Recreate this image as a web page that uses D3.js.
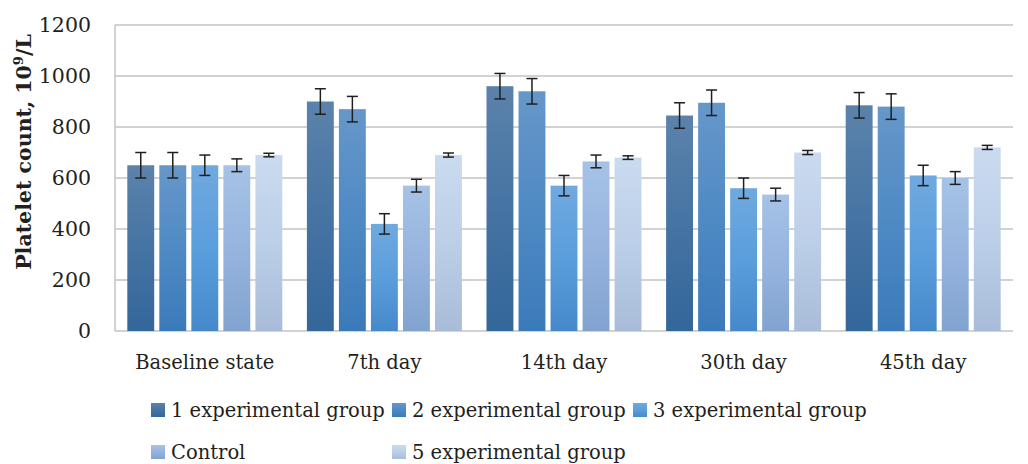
<html>

<head>
    <style>
        body { margin: 0; background: #fff; }
        text { font-family: "DejaVu Serif", "Liberation Serif", serif; fill: #231f20; }
    </style>
</head>

<body>
    <svg id="container" height="464" width="1028"></svg>
</body>
<script src="https://cdn.jsdelivr.net/npm/d3@7"></script>
<script>
    // data
    let categories = ["Baseline state", "7th day", "14th day", "30th day", "45th day"]
    let seriesNames = ["1 experimental group", "2 experimental group", "3 experimental group", "Control", "5 experimental group"]

    let group1 = [650, 900, 960, 845, 885]
    let group2 = [650, 870, 940, 895, 880]
    let group3 = [650, 420, 570, 560, 610]
    let control = [650, 570, 665, 535, 600]
    let group5 = [690, 690, 680, 700, 720]

    let err1 = [50, 50, 50, 50, 50]
    let err2 = [50, 50, 50, 50, 50]
    let err3 = [40, 40, 40, 40, 40]
    let errControl = [25, 25, 25, 25, 25]
    let err5 = [7, 8, 7, 8, 8]

    let yTicks = [0, 200, 400, 600, 800, 1000, 1200]

    // gradient stops per series: top, middle, bottom
    let gradients = [
        ["#5b82ab", "#4674a3", "#33669a"],
        ["#6697c9", "#4f8ac4", "#3b7aba"],
        ["#70a9df", "#5a9edc", "#4689cb"],
        ["#a6c2e6", "#96b4de", "#82a3d0"],
        ["#cadbef", "#bccfe8", "#a8bcd9"]
    ]

    let values = [group1, group2, group3, control, group5]
    let errors = [err1, err2, err3, errControl, err5]

    let svg = d3.select("#container")

    let plotLeft = 115, plotRight = 1013, plotTop = 25, plotBottom = 331

    let x0 = d3.scaleBand().domain(categories).range([plotLeft, plotRight]).padding(0)
    let x1 = d3.scaleBand().domain(d3.range(seriesNames.length))
        .range([12.3, x0.bandwidth() - 12.3]).paddingInner(0.16).paddingOuter(0)
    let y = d3.scaleLinear().domain([0, 1200]).range([plotBottom, plotTop])

    let defs = svg.append("defs")
    gradients.forEach((g, i) => {
        let lg = defs.append("linearGradient")
            .attr("id", "grad" + i)
            .attr("x1", 0).attr("y1", 0).attr("x2", 0).attr("y2", 1)
        lg.append("stop").attr("offset", "0%").attr("stop-color", g[0])
        lg.append("stop").attr("offset", "50%").attr("stop-color", g[1])
        lg.append("stop").attr("offset", "100%").attr("stop-color", g[2])
    })

    // gridlines
    svg.append("g")
        .selectAll("line")
        .data(yTicks)
        .enter()
        .append("line")
        .attr("x1", plotLeft)
        .attr("x2", plotRight)
        .attr("y1", d => y(d))
        .attr("y2", d => y(d))
        .attr("stroke", "#c3c3c3")
        .attr("stroke-width", 1.5)

    // left axis line
    svg.append("line")
        .attr("x1", plotLeft).attr("x2", plotLeft)
        .attr("y1", y(1200)).attr("y2", y(0))
        .attr("stroke", "#c3c3c3")
        .attr("stroke-width", 1.5)

    // y tick labels
    svg.append("g")
        .selectAll("text")
        .data(yTicks)
        .enter()
        .append("text")
        .attr("x", 91)
        .attr("y", d => y(d))
        .attr("dy", "0.36em")
        .attr("text-anchor", "end")
        .attr("font-size", 20.5)
        .text(d => d)

    // bars
    let groups = svg.append("g")
        .selectAll("g")
        .data(values)
        .enter()
        .append("g")
        .attr("fill", (d, i) => "url(#grad" + i + ")")

    groups.selectAll("rect")
        .data((d, i) => d.map((v, j) => ({ s: i, c: categories[j], v: v })))
        .enter()
        .append("rect")
        .attr("x", d => x0(d.c) + x1(d.s))
        .attr("width", x1.bandwidth())
        .attr("y", d => y(d.v))
        .attr("height", d => y(0) - y(d.v))

    // error bars
    let errData = []
    values.forEach((vals, i) => {
        vals.forEach((v, j) => {
            errData.push({ cx: x0(categories[j]) + x1(i) + x1.bandwidth() / 2, v: v, e: errors[i][j] })
        })
    })

    let eb = svg.append("g")
        .attr("stroke", "#1f1f1f")
        .attr("stroke-width", 1.5)
        .selectAll("g")
        .data(errData)
        .enter()
        .append("g")

    eb.append("line")
        .attr("x1", d => d.cx).attr("x2", d => d.cx)
        .attr("y1", d => y(d.v + d.e)).attr("y2", d => y(d.v - d.e))
    eb.append("line")
        .attr("x1", d => d.cx - 5.5).attr("x2", d => d.cx + 5.5)
        .attr("y1", d => y(d.v + d.e)).attr("y2", d => y(d.v + d.e))
    eb.append("line")
        .attr("x1", d => d.cx - 5.5).attr("x2", d => d.cx + 5.5)
        .attr("y1", d => y(d.v - d.e)).attr("y2", d => y(d.v - d.e))

    // category labels
    svg.append("g")
        .selectAll("text")
        .data(categories)
        .enter()
        .append("text")
        .attr("x", d => x0(d) + x0.bandwidth() / 2)
        .attr("y", 369)
        .attr("text-anchor", "middle")
        .attr("font-size", 19.5)
        .text(d => d)

    // y axis title
    let yTitle = svg.append("text")
        .attr("transform", "translate(31,152) rotate(-90)")
        .attr("text-anchor", "middle")
        .attr("font-size", 20.5)
        .attr("font-weight", "bold")
    yTitle.append("tspan").text("Platelet count, 10")
    yTitle.append("tspan").attr("font-size", 13).attr("dy", -8).text("9")
    yTitle.append("tspan").attr("dy", 8).text("/L")

    // legend
    let legendCols = [151, 392, 633]
    let legend = svg.append("g")
        .selectAll("g")
        .data(seriesNames)
        .enter()
        .append("g")
        .attr("transform", (d, i) => {
            let row = i < 3 ? 0 : 1
            let col = i < 3 ? i : i - 3
            return "translate(" + legendCols[col] + "," + (row === 0 ? 403 : 445) + ")"
        })

    legend.append("rect")
        .attr("width", 14)
        .attr("height", 14)
        .attr("fill", (d, i) => "url(#grad" + i + ")")

    legend.append("text")
        .attr("x", 20)
        .attr("y", 14)
        .attr("font-size", 19.5)
        .text(d => d)
</script>

</html>
